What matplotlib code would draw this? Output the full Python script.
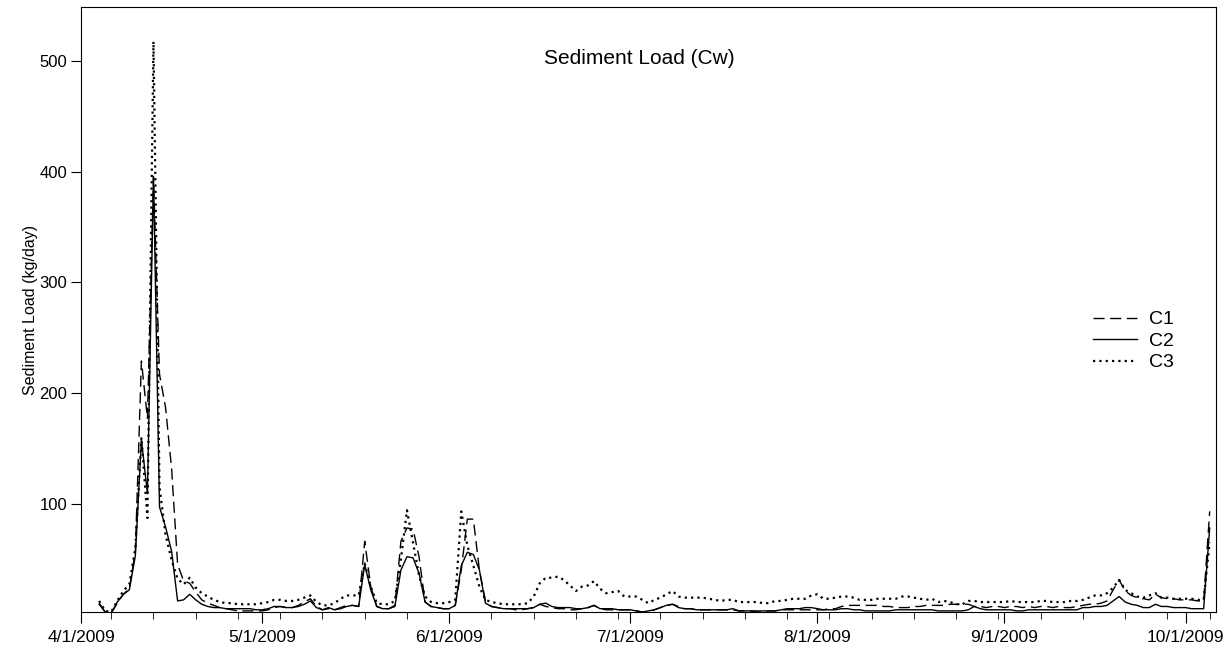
import numpy as np
import pandas as pd
import matplotlib
matplotlib.use("Agg")
import matplotlib.pyplot as plt
import matplotlib.dates as mdates

plt.rcParams['font.family'] = ['Liberation Sans', 'DejaVu Sans']

# daily values, 4/4/2009 .. 10/5/2009
dates = pd.date_range("2009-04-04", "2009-10-05", freq="D")

c1 = [10, 2, 1, 10, 18, 23, 57, 229, 177, 395, 217, 187, 132,
      45, 30, 28, 20, 13, 10, 8, 6, 5, 4, 3, 3, 3, 3, 3, 4, 6, 7, 6, 6, 8, 11, 14, 7, 4, 5, 4, 6, 8, 8, 7,
      66, 25, 7, 5, 5, 8, 66, 78, 77, 52, 11, 7, 6, 5, 5, 8, 40, 86, 86, 40, 12,
      7, 6, 5, 5, 4, 4, 5, 6, 9, 7, 6, 5, 5, 4, 4, 5, 6, 8, 5, 4, 4, 4, 4, 4, 3, 2, 2, 4, 6, 8, 9, 7,
      5, 5, 4, 4, 4, 4, 4, 4, 4, 3, 3, 3, 2, 2, 3, 3, 4, 4, 4, 4, 4, 4, 4, 4, 5, 5, 7, 8, 8, 8, 8, 8, 8,
      7, 7, 6, 6, 6, 7, 7, 8, 8, 8, 8, 9, 9, 9, 9, 7, 7,
      6, 7, 7, 6, 7, 7, 6, 7, 6, 7, 7, 6, 7, 6, 6, 7, 8, 9, 9, 10, 12, 22, 31, 21, 17, 15, 14, 13, 18,
      15, 14, 14, 13, 13, 13, 12, 12, 93]

c2 = [9, 2, 1, 11, 18, 22, 53, 158, 109, 396, 97, 79, 57,
      12, 13, 18, 13, 9, 7, 6, 6, 5, 5, 5, 5, 5, 4, 4, 5, 7, 7, 6, 6, 7, 9, 12, 6, 4, 6, 4, 5, 7, 8, 7,
      45, 22, 7, 5, 5, 7, 40, 52, 51, 37, 11, 7, 6, 5, 5, 8, 44, 56, 54, 40, 10,
      7, 6, 5, 5, 5, 5, 5, 6, 9, 10, 7, 6, 6, 6, 5, 5, 6, 8, 5, 5, 5, 4, 4, 4, 3, 2, 3, 4, 6, 8, 9, 6,
      5, 5, 4, 4, 4, 4, 4, 4, 5, 3, 3, 3, 3, 3, 3, 3, 4, 5, 5, 5, 6, 6, 5, 4, 4, 4, 5, 5, 4, 4, 3, 3, 3,
      3, 3, 4, 4, 4, 4, 4, 4, 4, 3, 3, 3, 3, 3, 4, 7, 5,
      4, 4, 4, 4, 4, 3, 3, 4, 4, 4, 4, 4, 4, 4, 4, 4, 6, 6, 7, 7, 8, 12, 16, 11, 9, 8, 6, 6, 9,
      7, 7, 6, 6, 6, 5, 5, 5, 78]

c3 = [12, 3, 2, 12, 21, 27, 60, 160, 87, 518, 115, 72, 49,
      32, 27, 33, 24, 19, 16, 13, 11, 10, 10, 9, 9, 9, 9, 10, 11, 13, 13, 12, 12, 13, 15, 17, 11, 8, 8, 10, 14, 17, 17, 17,
      46, 25, 10, 9, 9, 12, 50, 94, 65, 35, 16, 11, 10, 10, 11, 13, 93, 62, 44, 25, 13,
      11, 10, 9, 9, 9, 9, 10, 16, 28, 33, 33, 34, 31, 26, 21, 25, 26, 30, 23, 19, 20, 21, 16, 16, 16, 13, 10, 13, 15, 18, 21, 16,
      15, 15, 15, 15, 14, 13, 12, 13, 13, 11, 11, 11, 11, 10, 10, 12, 12, 13, 14, 14, 14, 17, 18, 14, 14, 15, 16, 16, 15, 13, 13, 13,
      14, 14, 14, 14, 16, 16, 15, 14, 13, 14, 11, 12, 11, 9, 9, 12, 12, 11,
      11, 11, 11, 11, 12, 11, 11, 11, 11, 12, 12, 11, 11, 11, 12, 12, 13, 15, 17, 17, 19, 24, 31, 22, 19, 16, 15, 17, 19,
      15, 15, 14, 14, 14, 14, 13, 13, 65]

series = [("C1", c1, (0, (8, 4)), 1.0),
          ("C2", c2, "-", 1.0),
          ("C3", c3, (0, (1.0, 1.85)), 1.6)]

fig = plt.figure(figsize=(12.28, 6.49), dpi=100)
ax = fig.add_axes([0.066, 0.057, 0.924, 0.932])

for name, vals, ls, lw in series:
    ax.plot(dates, vals, color="black", linestyle=ls, linewidth=lw, label=name)

ax.set_xlim(pd.Timestamp("2009-04-01"), pd.Timestamp("2009-10-06"))
ax.set_ylim(2, 549)
ax.set_yticks([100, 200, 300, 400, 500])

ax.xaxis.set_major_locator(mdates.MonthLocator())
ax.xaxis.set_minor_locator(mdates.WeekdayLocator(byweekday=mdates.MO))
ax.xaxis.set_major_formatter(
    plt.FuncFormatter(lambda x, pos: "{d.month}/{d.day}/{d.year}".format(d=mdates.num2date(x))))
ax.tick_params(axis="x", which="major", length=8, labelsize=12.5, pad=5)
ax.tick_params(axis="x", which="minor", length=5)
ax.tick_params(axis="y", length=7, labelsize=12, pad=3)

ax.set_ylabel("Sediment Load (kg/day)", fontsize=11.5, labelpad=1)
ax.text(0.492, 0.915, "Sediment Load (Cw)", transform=ax.transAxes,
        ha="center", va="center", fontsize=15)

ax.legend(loc="upper left", bbox_to_anchor=(0.876, 0.527), frameon=False,
          fontsize=14, handlelength=2.3, labelspacing=0.2, handletextpad=0.6)

fig.savefig("out.png", dpi=100)
